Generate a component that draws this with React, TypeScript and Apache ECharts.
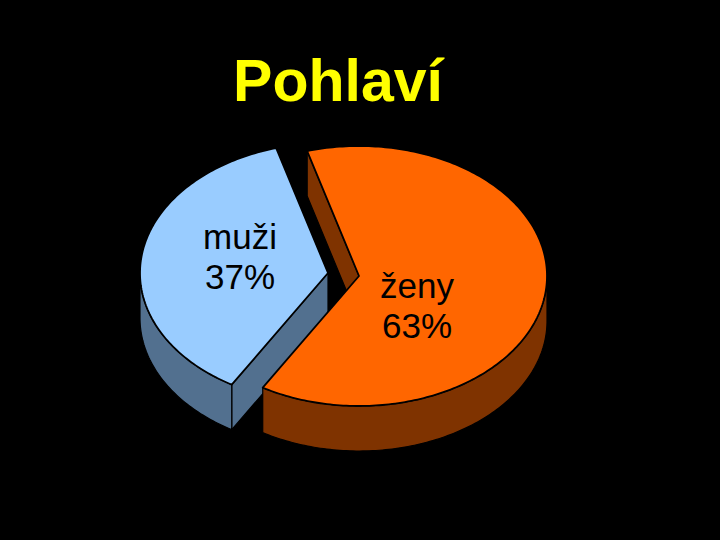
import React, { useEffect, useRef } from "react";
import * as echarts from "echarts";

const categories = ["muži", "ženy"];
const shares = [37, 63];
const titleText = "Pohlaví";

const topColors = ["#99ccff", "#ff6600"];
const sideColors = ["#52708f", "#7f3300"];
const centres = [[328, 273], [359, 276]];
const labelPlaces = [[240, 256], [417, 305]];
const RX = 188;
const RY = 130;
const DEPTH = 45;
const START_ANGLE = -16; // clockwise from 12 o'clock, where ženy starts
const FONT = '"Liberation Sans", Arial, sans-serif';

const point = (cx: number, cy: number, deg: number, dy = 0) => {
  const r = (deg * Math.PI) / 180;
  return [cx + RX * Math.sin(r), cy - RY * Math.cos(r) + dy];
};

const arcPoints = (cx: number, cy: number, a0: number, a1: number, dy = 0) => {
  const out: number[][] = [];
  const n = Math.max(2, Math.ceil(Math.abs(a1 - a0)));
  for (let i = 0; i <= n; i++) out.push(point(cx, cy, a0 + ((a1 - a0) * i) / n, dy));
  return out;
};

const total = shares.reduce((a, b) => a + b, 0);

const renderSlice = (params: any, api: any) => {
  const i = params.dataIndex;
  const value = api.value(0);
  const sweep = (value / total) * 360;
  // ženy starts at START_ANGLE, muži follows it clockwise
  const a0 = i === 1 ? START_ANGLE : START_ANGLE + (shares[1] / total) * 360;
  const a1 = a0 + sweep;
  const [cx, cy] = centres[i];
  const children: any[] = [];
  const poly = (points: number[][], fill: string, lineWidth = 1.2) => ({
    type: "polygon",
    shape: { points },
    style: { fill, stroke: "#000", lineWidth, lineJoin: "round" },
  });

  const side = sideColors[i];
  // flat cut face at the slice's starting edge
  const p = point(cx, cy, a0);
  children.push(poly([[cx, cy], p, [p[0], p[1] + DEPTH], [cx, cy + DEPTH]], side));
  // outer rim, only the part facing the viewer (90°..270°)
  const r0 = Math.max(a0, 90);
  const r1 = Math.min(a1, 270);
  if (r1 > r0) {
    const upper = arcPoints(cx, cy, r0, r1);
    const lower = arcPoints(cx, cy, r0, r1, DEPTH).reverse();
    children.push(poly([...upper, ...lower], side));
  }
  // top surface
  children.push(poly([[cx, cy], ...arcPoints(cx, cy, a0, a1)], topColors[i], 1.8));
  // label
  const [lx, ly] = labelPlaces[i];
  children.push({
    type: "text",
    style: {
      text: `${categories[i]}\n${Math.round(value)}%`,
      x: lx,
      y: ly,
      fill: "#000",
      font: `35px ${FONT}`,
      lineHeight: 40,
      align: "center",
      verticalAlign: "middle",
    },
  });
  return { type: "group", children };
};

export default function App() {
  const ref = useRef<HTMLDivElement>(null);
  useEffect(() => {
    const chart = echarts.init(ref.current!, undefined, { renderer: "svg" });
    chart.setOption({
      animation: false,
      backgroundColor: "#000",
      title: {
        text: titleText,
        left: 333,
        top: 46,
        textAlign: "center",
        textStyle: { color: "#ffff00", fontFamily: FONT, fontSize: 59, fontWeight: "bold" },
      },
      series: [
        {
          type: "custom",
          coordinateSystem: "none",
          renderItem: renderSlice,
          data: shares.map((v, i) => ({ name: categories[i], value: [v] })),
        },
      ],
    });
    return () => chart.dispose();
  }, []);
  return <div ref={ref} style={{ position: "fixed", left: 0, top: 0, width: 720, height: 540 }} />;
}
